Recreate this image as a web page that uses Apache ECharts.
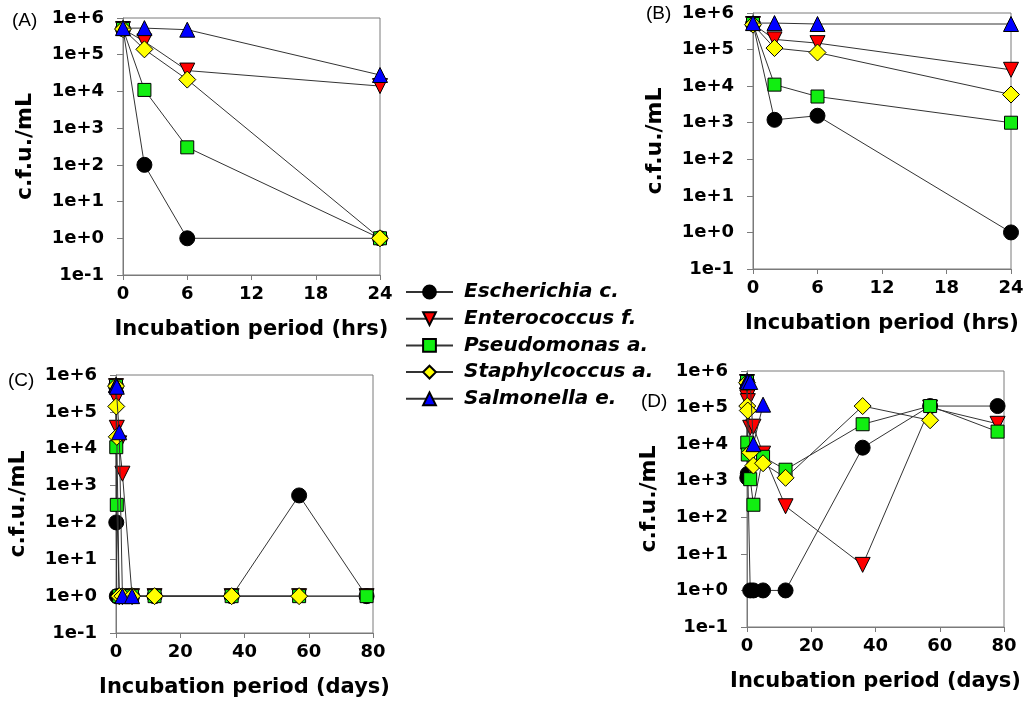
<!DOCTYPE html>
<html>
<head>
<meta charset="utf-8">
<script src="https://cdn.jsdelivr.net/npm/echarts@6/dist/echarts.min.js"></script>
<style>
html,body{margin:0;padding:0;background:#fff;}
#chart{width:1033px;height:702px;}
</style>
</head>
<body>
<div id="chart"></div>
<script>
// ---------- data ----------
const seriesNames = ['Escherichia c.', 'Enterococcus f.', 'Pseudomonas a.', 'Staphylcoccus a.', 'Salmonella e.'];
const hoursX = [0, 2, 6, 24];
const daysX = [0, 0.083, 0.25, 1, 2, 5, 12, 36, 57, 78];
const hourTicks = [0, 6, 12, 18, 24];
const dayTicks = [0, 20, 40, 60, 80];

// Panel A (hours)
const aEcoli  = [5e5, 100, 1, 1];
const aEntero = [5e5, 2.3e5, 3.7e4, 1.4e4];
const aPseudo = [5e5, 1.1e4, 300, 1];
const aStaph  = [5e5, 1.4e5, 2.1e4, 1];
const aSalmo  = [5.3e5, 5.3e5, 4.8e5, 2.8e4];

// Panel B (hours)
const bEcoli  = [5e5, 1.2e3, 1.55e3, 1];
const bEntero = [5e5, 1.9e5, 1.5e5, 2.8e4];
const bPseudo = [5e5, 1.1e4, 5.2e3, 1.0e3];
const bStaph  = [4.8e5, 1.1e5, 8.3e4, 5.9e3];
const bSalmo  = [5.3e5, 5.3e5, 5e5, 5e5];

// Panel C (days)
const cEcoli  = [5e5, 100, 1, 1, 1, 1, 1, 1, 540, 1];
const cEntero = [5e5, 2.3e5, 3.7e4, 1.4e4, 2.1e3, 1, 1, 1, 1, 1];
const cPseudo = [5e5, 1.1e4, 300, 1, 1, 1, 1, 1, 1, 1];
const cStaph  = [5e5, 1.4e5, 2.1e4, 1, 1, 1, 1, 1, 1, null];
const cSalmo  = [5.3e5, 5.3e5, 4.8e5, 2.8e4, 1, 1, null, null, null, null];

// Panel D (days)
const dEcoli  = [5e5, 1.2e3, 1.55e3, 1, 1, 1, 1, 8e3, 1.1e5, 1.1e5];
const dEntero = [5e5, 1.9e5, 1.5e5, 2.8e4, 3e4, 5.5e3, 200, 5, 1e5, 3.6e4];
const dPseudo = [5e5, 1.1e4, 5.2e3, 1.1e3, 220, 4.5e3, 2e3, 3.5e4, 1.1e5, 2.2e4];
const dStaph  = [4.8e5, 1.1e5, 8.3e4, 5.9e3, 2.6e3, 3e3, 1.2e3, 1.1e5, 4.5e4, null];
const dSalmo  = [5.3e5, 5.3e5, 5e5, 5e5, 1e4, 1.2e5, null, null, null, null];

// ---------- styling ----------
const markerFill = ['#000000', '#ff0000', '#11ee11', '#ffff00', '#0000ff'];
const markerShape = ['circle', 'triangle', 'rect', 'diamond', 'triangle'];
const markerRotate = [0, 180, 0, 0, 0];
const markerSize = [15, 15, 13, 17, 15];
const FONT = 'DejaVu Sans';
const axisGray = '#7a7a7a';

const panels = [
  { x: hoursX, ticks: hourTicks, data: [aEcoli, aEntero, aPseudo, aStaph, aSalmo], grid: {left: 123, top: 18, width: 257, height: 257}, xname: 'Incubation period (hrs)' },
  { x: hoursX, ticks: hourTicks, data: [bEcoli, bEntero, bPseudo, bStaph, bSalmo], grid: {left: 753, top: 13, width: 258, height: 256}, xname: 'Incubation period (hrs)' },
  { x: daysX, ticks: dayTicks, data: [cEcoli, cEntero, cPseudo, cStaph, cSalmo], grid: {left: 116, top: 375, width: 257, height: 258}, xname: 'Incubation period (days)' },
  { x: daysX, ticks: dayTicks, data: [dEcoli, dEntero, dPseudo, dStaph, dSalmo], grid: {left: 747, top: 371, width: 257, height: 256}, xname: 'Incubation period (days)' }
];

const grids = [], xAxes = [], yAxes = [], series = [];
panels.forEach((p, gi) => {
  grids.push(Object.assign({ show: true, borderColor: axisGray, borderWidth: 1, containLabel: false }, p.grid));
  const tmin = p.ticks[0], tmax = p.ticks[p.ticks.length - 1];
  xAxes.push({
    gridIndex: gi, type: 'value', min: tmin, max: tmax, interval: p.ticks[1] - p.ticks[0],
    axisLine: { onZero: false, lineStyle: { color: axisGray, width: 1 } },
    axisTick: { show: true, length: 5, lineStyle: { color: axisGray } },
    splitLine: { show: false },
    axisLabel: { fontFamily: FONT, fontWeight: 'bold', fontSize: 18, color: '#000', margin: 10 },
    name: p.xname, nameLocation: 'middle', nameGap: 44,
    nameTextStyle: { fontFamily: FONT, fontWeight: 'bold', fontSize: 21, color: '#000' }
  });
  yAxes.push({
    gridIndex: gi, type: 'log', logBase: 10, min: 0.1, max: 1e6, interval: 1,
    axisLine: { lineStyle: { color: axisGray, width: 1 } },
    axisTick: { show: true, length: 6, lineStyle: { color: axisGray } },
    minorTick: { show: false },
    splitLine: { show: false },
    axisLabel: {
      fontFamily: FONT, fontWeight: 'bold', fontSize: 18, color: '#000', margin: 19,
      formatter: function (v) {
        const e = Math.round(Math.log10(v));
        return '1e' + (e >= 0 ? '+' : '-') + Math.abs(e);
      }
    },
    name: 'c.f.u./mL', nameLocation: 'middle', nameGap: 87, nameRotate: 90,
    nameTextStyle: { fontFamily: FONT, fontWeight: 'bold', fontSize: 22, color: '#000' }
  });
  p.data.forEach((vals, si) => {
    series.push({
      name: seriesNames[si], type: 'line', xAxisIndex: gi, yAxisIndex: gi,
      data: p.x.map((xv, i) => vals[i] == null ? null : [xv, vals[i]]).filter(d => d !== null),
      symbol: markerShape[si], symbolSize: markerSize[si], symbolRotate: markerRotate[si],
      showAllSymbol: true, animation: false, z: 2 + si,
      lineStyle: { color: '#333', width: 1 },
      itemStyle: { color: markerFill[si], borderColor: '#000', borderWidth: 1 },
      emphasis: { disabled: true }
    });
  });
});

const chart = echarts.init(document.getElementById('chart'), null, { renderer: 'canvas' });
chart.setOption({
  backgroundColor: '#fff',
  animation: false,
  grid: grids, xAxis: xAxes, yAxis: yAxes, series: series,
  legend: {
    orient: 'vertical', left: 400, top: 277, data: seriesNames,
    itemWidth: 47, itemHeight: 16, itemGap: 6.7,
    textStyle: { fontFamily: FONT, fontWeight: 'bold', fontStyle: 'italic', fontSize: 20, color: '#000', lineHeight: 20, padding: [0, 0, 0, 6] },
    selectedMode: false
  },
  graphic: [
    { type: 'text', left: 12, top: 11, style: { text: '(A)', font: '19px "Liberation Sans"', fill: '#000' } },
    { type: 'text', left: 646, top: 4, style: { text: '(B)', font: '19px "Liberation Sans"', fill: '#000' } },
    { type: 'text', left: 8, top: 371, style: { text: '(C)', font: '19px "Liberation Sans"', fill: '#000' } },
    { type: 'text', left: 641, top: 392, style: { text: '(D)', font: '19px "Liberation Sans"', fill: '#000' } }
  ]
});
</script>
</body>
</html>
